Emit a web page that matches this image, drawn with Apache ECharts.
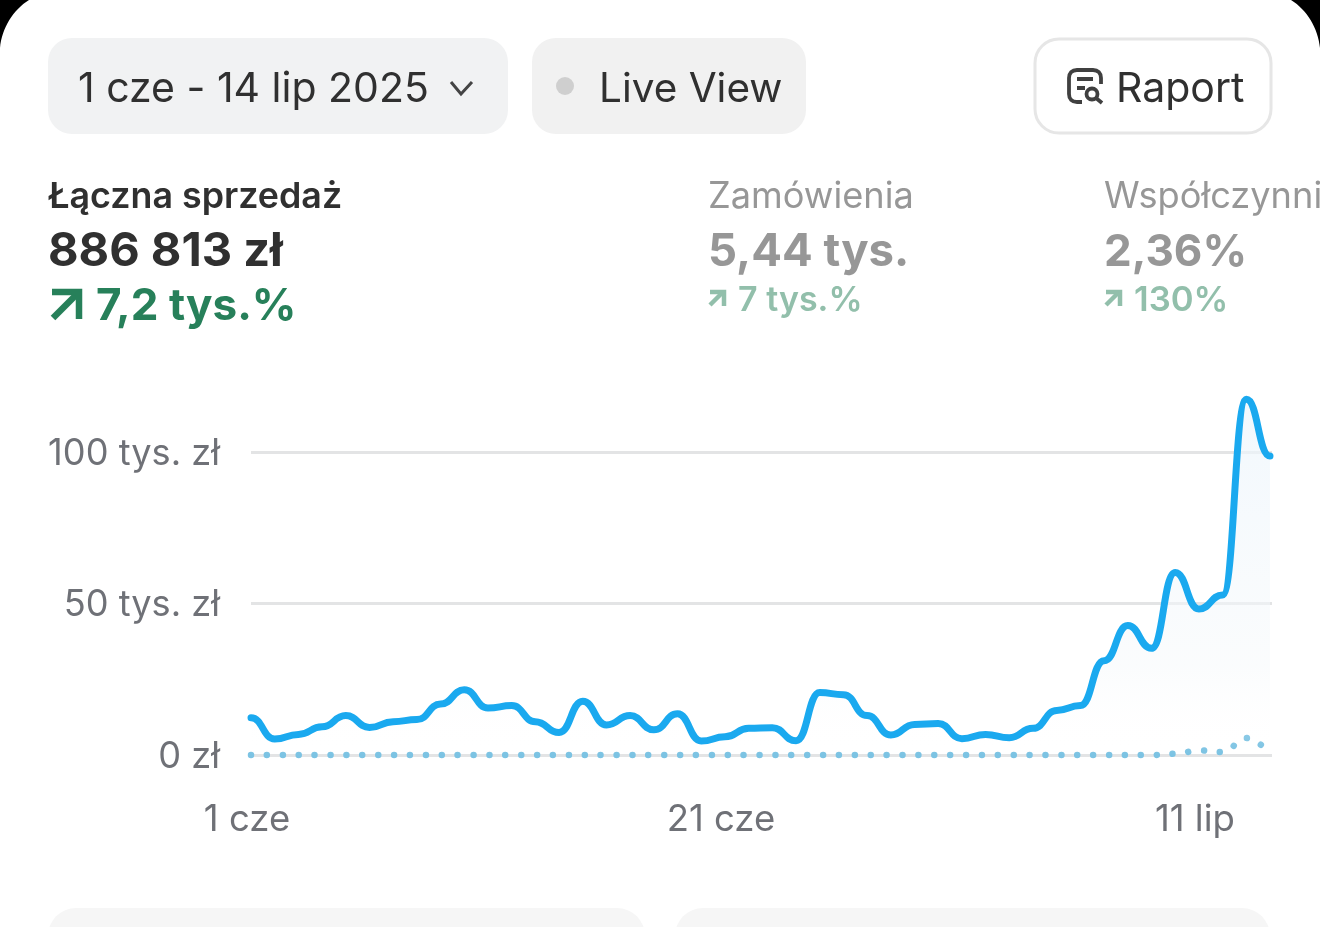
<!DOCTYPE html>
<html><head><meta charset="utf-8">
<style>html,body{margin:0;padding:0;background:#fff;overflow:hidden}#c{width:1320px;height:927px}</style>
<script src="https://cdn.jsdelivr.net/npm/echarts@6/dist/echarts.min.js"></script>
</head><body><div id="c"></div>
<script>
const tickDays=[0,20,40];
const tickDayLabels=['1 cze','21 cze','11 lip'];
const yTicks=[0,50,100];
const yTickLabels=['0 zł','50 tys. zł','100 tys. zł'];
const salesCurrent=[12.3,5.3,6.8,9.3,13,9.1,11,11.7,16.8,21.5,15.5,16.3,11,7.4,17.7,9.9,13,8.3,13.6,4.6,6,8.8,9,4.7,20.6,19.9,13,6.6,10.1,10.4,5.4,6.8,5.7,8.8,14.7,16.3,31.1,42.7,35.2,60.2,48.2,52.8,117.4,98.7];
const salesPrevious=[0,0,0,0,0,0,0,0,0,0,0,0,0,0,0,0,0,0,0,0,0,0,0,0,0,0,0,0,0,0,0,0,0,0,0,0,0,0,0,0.4,1.5,1,5.6,2.5];
const F='Inter';
echarts.graphic.registerShape('cornerL',echarts.graphic.extendPath('M0 0L29 0C13 10 2 28 0 48Z',{}));
echarts.graphic.registerShape('cornerR',echarts.graphic.extendPath('M0 0L-29 0C-13 10 -2 28 0 48Z',{}));
echarts.graphic.registerShape('reportIcon',echarts.graphic.extendPath('M14 33H9C4 33 1 30 1 25V9C1 4 4 1 9 1H25C30 1 33 4 33 9V15M9 10H25M9 19H17',{}));
const txt=(x,y,text,size,weight,fill)=>({type:'text',x,y:y-0.8*size,style:{text,font:`${weight} ${size}px ${F}`,fill}});
const round=(x,y,w,h,r,fill,stroke)=>({type:'rect',shape:{x,y,width:w,height:h,r},style:{fill,stroke:stroke||null,lineWidth:stroke?3:0}});
const arrow=(x,y,s,c,w)=>({type:'polyline',x,y,shape:{points:[[0,s],[s,0]]},style:{stroke:c,lineWidth:w,fill:null}});
const arrowHead=(x,y,s,c,w)=>({type:'polyline',x,y,shape:{points:[[0,0],[s,0],[s,s]]},style:{stroke:c,lineWidth:w,fill:null,lineJoin:'miter'}});
const graphics=[
 {type:'cornerL',x:0,y:0,style:{fill:'#000'}},
 {type:'cornerR',x:1320,y:0,style:{fill:'#000'}},
 round(48,38,460,96,24,'#f1f2f3'),
 round(532,38,274,96,24,'#f1f1f1'),
 round(1035,39,236,94,24,'#fff','#e6e6e6'),
 txt(78,102,'1 cze - 14 lip 2025',41,400,'#303030'),
 {type:'polyline',shape:{points:[[451,82],[461,94],[472,82]]},style:{stroke:'#444',lineWidth:3,fill:null}},
 {type:'circle',shape:{cx:565,cy:86,r:9},style:{fill:'#cfcfcf'}},
 txt(599,102,'Live View',40.5,400,'#303030'),
 {type:'reportIcon',x:1068,y:69,style:{stroke:'#404040',lineWidth:3.8,fill:null}},
 {type:'circle',shape:{cx:1092,cy:94,r:5.5},style:{fill:null,stroke:'#404040',lineWidth:3.8}},
 {type:'line',shape:{x1:1096,y1:98,x2:1102,y2:103},style:{stroke:'#404040',lineWidth:3.8}},
 txt(1116,102,'Raport',41,400,'#303030'),
 txt(48,208,'Łączna sprzedaż',35.8,600,'#303030'),
 txt(48,266,'886 813 zł',47,700,'#303030'),
 arrow(53,292,26,'#27805a',6.5),arrowHead(52,292,27,'#27805a',6.5),
 txt(96,320,'7,2 tys.%',44,700,'#27805a'),
 txt(708,208,'Zamówienia',36.2,400,'#979797'),
 txt(708,266,'5,44 tys.',45.5,700,'#979797'),
 arrow(710,292,13,'#92bfab',4.5),arrowHead(710,292,14,'#92bfab',4.5),
 txt(738,311,'7 tys.%',34,600,'#92bfab'),
 txt(1104,208,'Współczynnik',36.2,400,'#979797'),
 txt(1104,266,'2,36%',44,700,'#979797'),
 arrow(1106,292,13,'#92bfab',4.5),arrowHead(1106,292,14,'#92bfab',4.5),
 txt(1134,311,'130%',34.7,600,'#92bfab'),
 round(48,908,597,60,28,'#f6f6f6'),
 round(675,908,595,60,28,'#f6f6f6')
];
// Horizontal-tangent curve through every data point, positioned by the chart's own scales.
function bump(api,values){
  const pts=values.map((v,i)=>api.coord([i,v]));
  let d=`M${pts[0][0]} ${pts[0][1]}`;
  for(let i=1;i<pts.length;i++){
    const a=pts[i-1],b=pts[i],m=(a[0]+b[0])/2;
    d+=`C${m} ${a[1]} ${m} ${b[1]} ${b[0]} ${b[1]}`;
  }
  return {d,pts};
}
function curveSeries(name,values,z,styleFn){
  return {type:'custom',name,z,coordinateSystem:'cartesian2d',clip:false,
    data:values.map((v,i)=>[i,v]),encode:{x:0,y:1},
    renderItem(params,api){
      if(params.dataIndex!==0) return null;
      return styleFn(bump(api,values),api);
    }};
}
const chart=echarts.init(document.getElementById('c'));
chart.setOption({
 animation:false,backgroundColor:'#fff',
 grid:{left:251,right:48,top:391.4,bottom:172,containLabel:false},
 xAxis:{type:'value',min:0,max:43.085,axisLine:{show:false},axisTick:{show:false},splitLine:{show:false},
  axisLabel:{customValues:tickDays,margin:47,fontSize:36.5,fontFamily:F,color:'#6f7177',padding:[0,8,0,0],hideOverlap:false,showMinLabel:true,showMaxLabel:true,
   formatter:v=>tickDayLabels[tickDays.indexOf(v)]}},
 yAxis:{type:'value',min:0,max:120,axisLine:{show:false},axisTick:{show:false,customValues:yTicks},
  splitLine:{show:true,lineStyle:{color:'#e3e4e5',width:3}},
  axisLabel:{customValues:yTicks,margin:31,formatter:v=>'{a|'+yTickLabels[yTicks.indexOf(v)]+'}',
   rich:{a:{fontSize:36.2,fontFamily:F,color:'#6f7177',padding:[4,0,0,0]}}}},
 series:[
  curveSeries('poprzedni',salesPrevious,3,({d})=>({type:'path',shape:{pathData:d,layout:'cover'},style:{fill:null,stroke:'#7cc3e3',lineWidth:6.5,lineDash:[0.01,15.88],lineCap:'round'}})),
  curveSeries('sprzedaż',salesCurrent,4,({d,pts},api)=>{
    const base=api.coord([0,0])[1],last=pts[pts.length-1];
    return {type:'group',children:[
      {type:'path',shape:{pathData:`${d}L${last[0]} ${base}L${pts[0][0]} ${base}Z`,layout:'cover'},
       style:{stroke:null,fill:new echarts.graphic.LinearGradient(0,0,0,1,[{offset:0,color:'rgba(236,245,252,0.7)'},{offset:0.75,color:'rgba(246,249,251,0.5)'},{offset:1,color:'rgba(255,255,255,0)'}])}},
      {type:'path',shape:{pathData:d,layout:'cover'},style:{fill:null,stroke:'#1aa9ef',lineWidth:7,lineCap:'round',lineJoin:'round'}}
    ]};
  })
 ],
 graphic:{elements:graphics}
});
</script></body></html>
